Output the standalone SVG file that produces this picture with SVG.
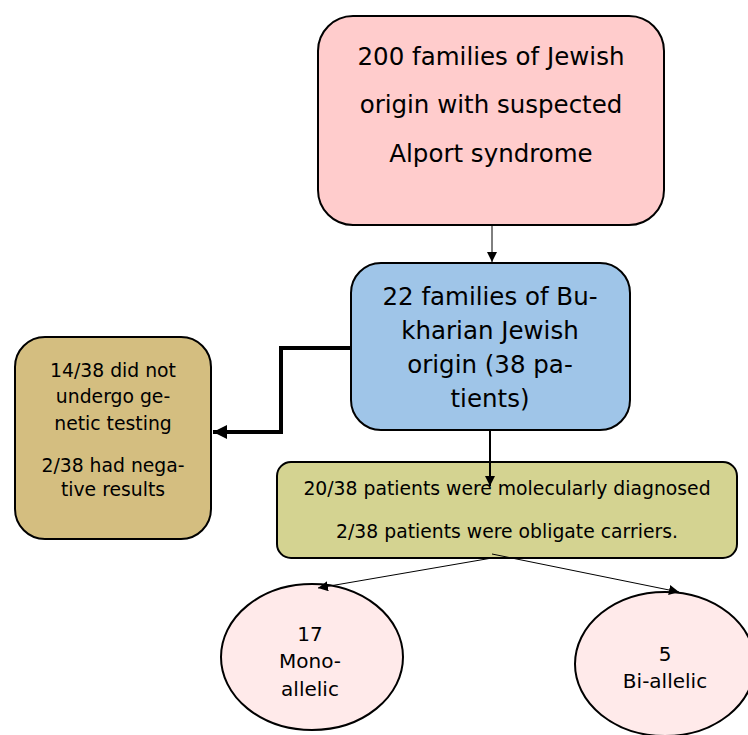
<svg xmlns="http://www.w3.org/2000/svg" width="748" height="735" viewBox="0 0 748 735">
<style>
.box{stroke:#000;stroke-width:2}
.t{font-family:"DejaVu Sans","Liberation Sans",sans-serif;fill:#000;text-anchor:middle}
.big{font-size:24.5px}
.mid{font-size:20px}
.sm{font-size:18.8px}
.c{fill:none;stroke:#000}
</style>
<defs>
<marker id="ah" viewBox="0 0 10 10" refX="10" refY="5" markerWidth="10" markerHeight="10" markerUnits="userSpaceOnUse" orient="auto"><path d="M0,0 L10,5 L0,10 z" fill="#000"/></marker>
<marker id="ahb" viewBox="0 0 10 10" refX="10" refY="5" markerWidth="14" markerHeight="14" markerUnits="userSpaceOnUse" orient="auto"><path d="M0,0 L10,5 L0,10 z" fill="#000"/></marker>
</defs>
<rect width="748" height="735" fill="#fff"/>
<g id="n1">
<rect class="box" x="318" y="16" width="346" height="209" rx="35" fill="#ffcccc"/>
<text class="t big" x="491" y="65">200 families of Jewish</text>
<text class="t big" x="491" y="113">origin with suspected</text>
<text class="t big" x="491" y="162">Alport syndrome</text>
</g>
<g id="n2">
<rect class="box" x="351" y="263" width="279" height="167" rx="30" fill="#9fc5e8"/>
<text class="t big" x="490" y="305">22 families of Bu-</text>
<text class="t big" x="490" y="339">kharian Jewish</text>
<text class="t big" x="490" y="373">origin (38 pa-</text>
<text class="t big" x="490" y="407">tients)</text>
</g>
<g id="n3">
<rect class="box" x="15" y="337" width="196" height="202" rx="30" fill="#d4be80"/>
<text class="t sm" x="113" y="377">14/38 did not</text>
<text class="t sm" x="113" y="403">undergo ge-</text>
<text class="t sm" x="113" y="430">netic testing</text>
<text class="t sm" x="113" y="472">2/38 had nega-</text>
<text class="t sm" x="113" y="496">tive results</text>
</g>
<g id="n4">
<rect class="box" x="277" y="462" width="460" height="96" rx="14" fill="#d4d391"/>
<text class="t sm" x="507" y="495">20/38 patients were molecularly diagnosed</text>
<text class="t sm" x="507" y="538">2/38 patients were obligate carriers.</text>
</g>
<g id="n5">
<ellipse class="box" cx="312" cy="657" rx="91" ry="73" fill="#ffeaea"/>
<text class="t mid" x="310" y="641">17</text>
<text class="t mid" x="310" y="668">Mono-</text>
<text class="t mid" x="310" y="696">allelic</text>
</g>
<g id="n6">
<ellipse class="box" cx="665" cy="664" rx="90" ry="72" fill="#ffeaea"/>
<text class="t mid" x="665" y="661">5</text>
<text class="t mid" x="665" y="688">Bi-allelic</text>
</g>
<g id="connectors">
<line class="c" x1="492" y1="226" x2="492" y2="262" stroke-width="1" marker-end="url(#ah)"/>
<polyline class="c" points="351,348 281,348 281,432 213,432" stroke-width="4" marker-end="url(#ahb)"/>
<line class="c" x1="490" y1="431" x2="490" y2="486" stroke-width="2" marker-end="url(#ah)"/>
<line class="c" x1="492" y1="558" x2="318" y2="588" stroke-width="1" marker-end="url(#ah)"/>
<line class="c" x1="492" y1="554" x2="679" y2="592" stroke-width="1" marker-end="url(#ah)"/>
</g>
</svg>
